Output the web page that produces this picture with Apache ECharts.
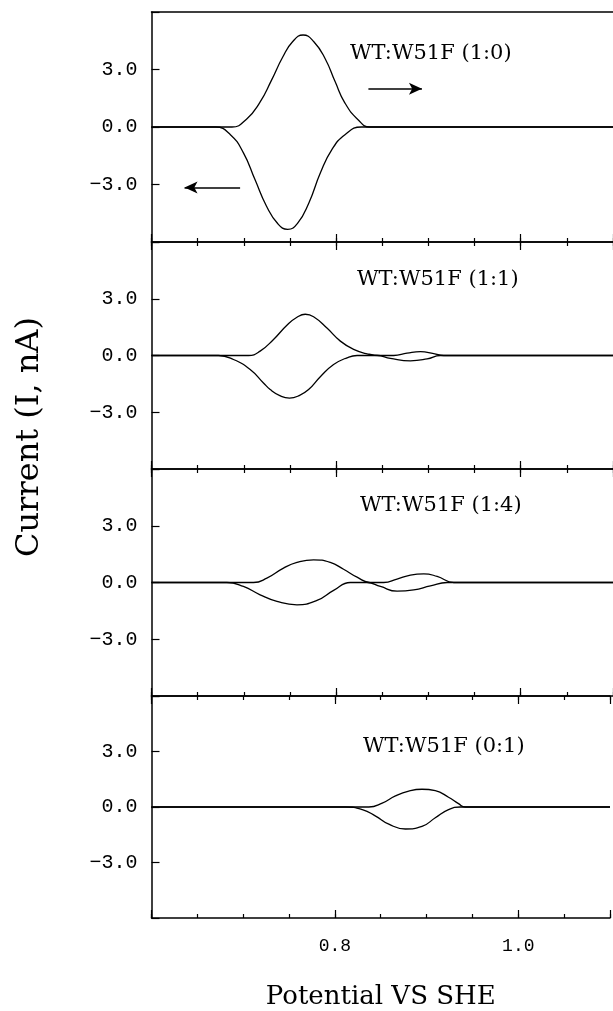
<!DOCTYPE html>
<html>
<head>
<meta charset="utf-8">
<title>WT:W51F</title>
<script src="https://cdn.jsdelivr.net/npm/echarts@6/dist/echarts.min.js"></script>
<style>
    html, body { margin: 0; padding: 0; background: #fff; }
    #main { width: 613px; height: 1011px; }
</style>
</head>
<body>
<div id="main"></div>
<script>
// 数据 (电位 V, 电流 nA)
const xMin = 0.6, xMax = 1.1;
const xTickLabels = ['0.8', '1.0'];
const yTickLabels = ['−3.0', '0.0', '3.0'];
const panelNames = ['WT:W51F (1:0)', 'WT:W51F (1:1)', 'WT:W51F (1:4)', 'WT:W51F (0:1)'];

// 面板1 1:0
const fwd1 = [[0.6, 0], [0.6772, 0], [0.6872, 0], [0.7032, 0.42], [0.7174, 1.28], [0.7298, 2.42], [0.7422, 3.65],
    [0.7528, 4.45], [0.7642, 4.80], [0.7759, 4.45], [0.7883, 3.55], [0.7989, 2.37], [0.8096, 1.25], [0.8238, 0.38],
    [0.8362, 0], [0.8462, 0], [1.1, 0]];
const rev1 = [[0.6, 0], [0.6595, 0], [0.6695, 0], [0.6855, -0.40], [0.6996, -1.35], [0.7121, -2.74], [0.7245, -4.12],
    [0.7369, -5.05], [0.7475, -5.34], [0.7582, -5.03], [0.7706, -3.95], [0.7830, -2.39], [0.7954, -1.18],
    [0.8096, -0.40], [0.8273, 0], [0.8373, 0], [1.1, 0]];
// 面板2 1:1
const fwd2 = [[0.6, 0], [0.6951, 0], [0.7051, 0], [0.7177, 0.23], [0.7322, 0.85], [0.7467, 1.60], [0.7576, 2.02],
    [0.7666, 2.18], [0.7756, 2.05], [0.7901, 1.45], [0.8046, 0.76], [0.8190, 0.32], [0.8335, 0.09], [0.8480, 0],
    [0.8624, 0], [0.8769, 0.12], [0.8914, 0.2], [0.9058, 0.1], [0.9167, 0], [0.9267, 0], [1.1, 0]];
const rev2 = [[0.6, 0], [0.6625, 0], [0.6725, 0], [0.6888, -0.21], [0.7069, -0.74], [0.7213, -1.45], [0.7286, -1.80],
    [0.7390, -2.12], [0.7495, -2.25], [0.7600, -2.12], [0.7702, -1.80], [0.7829, -1.12], [0.7973, -0.48],
    [0.8118, -0.12], [0.8227, 0], [0.8444, 0], [0.8588, -0.15], [0.8805, -0.28], [0.8986, -0.18], [0.9130, 0],
    [0.9230, 0], [1.1, 0]];
// 面板3 1:4
const fwd3 = [[0.6, 0], [0.7005, 0], [0.7105, 0], [0.725, 0.23], [0.743, 0.76], [0.7576, 1.06], [0.7756, 1.2],
    [0.7937, 1.06], [0.8081, 0.70], [0.8227, 0.28], [0.8371, 0], [0.8516, 0], [0.866, 0.18], [0.8805, 0.39],
    [0.895, 0.46], [0.9095, 0.32], [0.9275, 0], [0.9375, 0], [1.1, 0]];
const rev3 = [[0.6, 0], [0.6716, 0], [0.6816, 0], [0.6996, -0.21], [0.7177, -0.65], [0.7359, -1.0], [0.7576, -1.18],
    [0.7793, -0.95], [0.7973, -0.42], [0.8154, 0], [0.8335, 0], [0.848, -0.21], [0.866, -0.46], [0.8841, -0.39],
    [0.9022, -0.18], [0.9203, 0], [0.9303, 0], [1.1, 0]];
// 面板4 0:1
const fwd4 = [[0.6, 0], [0.827, 0], [0.837, 0], [0.8516, 0.21], [0.866, 0.6], [0.8805, 0.86], [0.895, 0.96],
    [0.9095, 0.88], [0.9239, 0.53], [0.9348, 0.18], [0.942, 0], [0.952, 0], [1.1, 0]];
const rev4 = [[0.6, 0], [0.8018, 0], [0.8118, 0], [0.8299, -0.14], [0.8444, -0.49], [0.8588, -0.93], [0.8769, -1.19],
    [0.895, -1.05], [0.9095, -0.58], [0.9239, -0.14], [0.9366, 0], [0.9466, 0], [1.1, 0]];

// 扫描方向箭头
const arrowFwd = [[0.835, 2.0], [0.893, 2.0]];
const arrowRev = [[0.696, -3.15], [0.6358, -3.15]];

const curves = [[fwd1, rev1], [fwd2, rev2], [fwd3, rev3], [fwd4, rev4]];

// 布局
const gridTop = [12, 242, 469, 696];
const gridHeight = [230, 227, 227, 227];
const labelPos = [[345, 38], [352, 264], [355, 490], [358, 731]];
const black = '#000';
const tickFont = 'Liberation Mono';
const titleFont = 'DejaVu Serif';

let chart = echarts.init(document.getElementById('main'));

let grid = [];
let xAxis = [];
let yAxis = [];
let series = [];
let title = [];
let mainX = [];

let xLabelFmt = (v) => {
    let s = v.toFixed(1);
    return xTickLabels.indexOf(s) > -1 && Math.abs(v - parseFloat(s)) < 1e-6 ? s : '';
};
let yLabelFmt = (v) => {
    let s = (v < 0 ? '−' : '') + Math.abs(v).toFixed(1);
    return yTickLabels.indexOf(s) > -1 ? s : '';
};

let axisBase = (i, pos, interval, len, showLine) => ({
    type: 'value',
    gridIndex: i,
    min: xMin,
    max: xMax,
    interval: interval,
    position: pos,
    axisLine: { show: showLine, onZero: false, lineStyle: { color: black, width: 1.5 } },
    axisTick: { show: len > 0, inside: true, length: len, lineStyle: { color: black, width: 1.2 } },
    axisLabel: { show: false },
    splitLine: { show: false }
});

for (let i = 0; i < 4; i++) {
    grid.push({ left: 151.5, right: 0, top: gridTop[i], height: gridHeight[i] });

    // 下边框 小刻度 + 大刻度
    mainX.push(xAxis.length);
    xAxis.push(axisBase(i, 'bottom', 0.05, 4, true));
    let major = axisBase(i, 'bottom', 0.2, 8, false);
    if (i === 3) {
        major.axisLabel = {
            show: true, formatter: xLabelFmt, color: black,
            fontFamily: tickFont, fontSize: 18, margin: 19
        };
        major.name = 'Potential VS SHE';
        major.nameLocation = 'middle';
        major.nameGap = 66;
        major.nameTextStyle = { color: black, fontFamily: titleFont, fontSize: 26 };
    }
    xAxis.push(major);

    // 上边框
    if (i === 0) {
        xAxis.push(axisBase(i, 'top', 0.05, 0, true));
    } else {
        xAxis.push(axisBase(i, 'top', 0.05, 4, true));
        xAxis.push(axisBase(i, 'top', 0.2, 8, false));
    }

    yAxis.push({
        type: 'value',
        gridIndex: i,
        min: -6,
        max: 6,
        interval: 3,
        axisLine: { show: true, onZero: false, lineStyle: { color: black, width: 1.5 } },
        axisTick: { inside: true, length: 8, lineStyle: { color: black, width: 1.2 } },
        axisLabel: {
            formatter: yLabelFmt, color: black, fontFamily: tickFont,
            fontSize: 20, margin: 14
        },
        splitLine: { show: false }
    });

    title.push({
        text: panelNames[i],
        left: labelPos[i][0],
        top: labelPos[i][1],
        textStyle: { color: black, fontFamily: titleFont, fontSize: 21, fontWeight: 'normal' }
    });

    curves[i].forEach((d) => {
        series.push({
            type: 'line',
            xAxisIndex: mainX[i],
            yAxisIndex: i,
            data: d,
            smooth: 0.5,
            symbol: 'none',
            lineStyle: { color: black, width: 1.3 },
            silent: true
        });
    });
}

// 箭头
let arrowLine = (a) => [{ coord: a[0] }, { coord: a[1] }];
series[0].markLine = {
    silent: true,
    symbol: ['none', 'arrow'],
    symbolSize: [9, 13],
    label: { show: false },
    lineStyle: { color: black, width: 1.5, type: 'solid' },
    data: [arrowLine(arrowFwd), arrowLine(arrowRev)]
};

let option = {
    animation: false,
    backgroundColor: '#fff',
    title: title,
    grid: grid,
    xAxis: xAxis,
    yAxis: yAxis,
    series: series,
    graphic: [{
        type: 'text',
        x: 30,
        y: 437,
        rotation: Math.PI / 2,
        style: {
            text: 'Current (I, nA)',
            fill: black,
            font: '32px "DejaVu Serif"',
            textAlign: 'center',
            textVerticalAlign: 'middle'
        }
    }]
};

chart.setOption(option);
</script>
</body>
</html>
